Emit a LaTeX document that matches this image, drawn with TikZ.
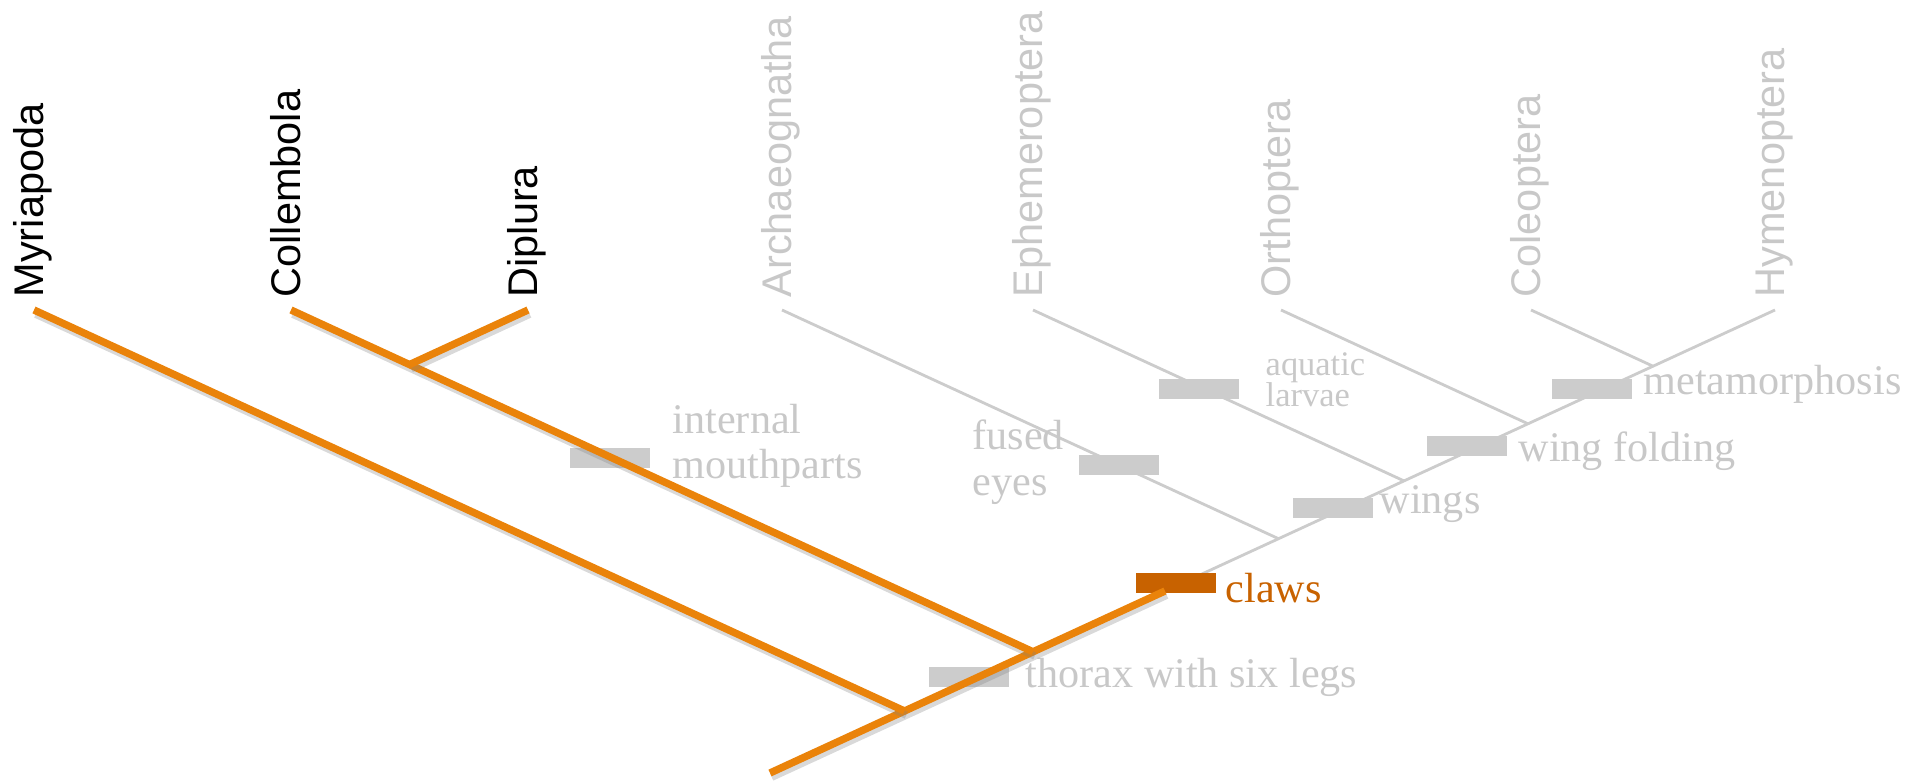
\documentclass[tikz,border=0pt]{standalone}
\usepackage{fontspec}
\setmainfont{Liberation Serif}
\newfontfamily\taxfont{Liberation Sans}
\definecolor{cladeorange}{RGB}{234,131,10}
\definecolor{clawbrown}{RGB}{200,98,0}
\definecolor{lightgrey}{RGB}{204,204,204}
\definecolor{textgrey}{RGB}{200,200,200}
\tikzset{
  orangeline/.style={draw=cladeorange, line width=2.1pt,
    preaction={draw=black!50, opacity=0.3, line width=2.1pt, transform canvas={shift={(0.5pt,-1.2pt)}}}},
  greyline/.style={draw=lightgrey, line width=0.8pt},
  trait/.style={fill=lightgrey, minimum width=0.8cm, minimum height=0.2cm, inner sep=0pt},
  traittext/.style={anchor=base west, text=textgrey, inner sep=0pt, align=left, font=\fontsize{12}{12.6}\selectfont},
  taxon/.style={rotate=90, anchor=base west, inner sep=0pt, font=\taxfont\fontsize{11.8}{14}\selectfont},
}
\begin{document}
\begin{tikzpicture}
    \useasboundingbox (0,0) rectangle (19.17,7.82);

    % spine
    \coordinate (R) at (7.70,0.09);
    \coordinate (H) at (17.75,4.72);
    \coordinate (C) at (11.65,1.91);

    % tips
    \coordinate (Myr) at (0.34,4.72);
    \coordinate (Col) at (2.91,4.72);
    \coordinate (Dip) at (5.28,4.72);
    \coordinate (Arc) at (7.82,4.72);
    \coordinate (Eph) at (10.33,4.72);
    \coordinate (Ort) at (12.81,4.72);
    \coordinate (Cle) at (15.31,4.72);

    % junctions
    \coordinate (J1) at (9.045,0.710);
    \coordinate (J2) at (10.33,1.302);
    \coordinate (J3) at (4.095,4.174);
    \coordinate (J4) at (12.785,2.433);
    \coordinate (J5) at (14.04,3.011);
    \coordinate (J6) at (15.28,3.582);
    \coordinate (J7) at (16.53,4.158);

    % taxa
    \node[taxon] (nMyr) at ([shift={(0.09,0.12)}]Myr) {Myriapoda};
    \node[taxon] (nCol) at ([shift={(0.09,0.12)}]Col) {Collembola};
    \node[taxon] (nDip) at ([shift={(0.09,0.12)}]Dip) {Diplura};
    \node[taxon, text=textgrey] (nArc) at ([shift={(0.09,0.12)}]Arc) {Archaeognatha};
    \node[taxon, text=textgrey] (nEph) at ([shift={(0.09,0.12)}]Eph) {Ephemeroptera};
    \node[taxon, text=textgrey] (nOrt) at ([shift={(0.09,0.12)}]Ort) {Orthoptera};
    \node[taxon, text=textgrey] (nCle) at ([shift={(0.09,0.12)}]Cle) {Coleoptera};
    \node[taxon, text=textgrey] (nHym) at ([shift={(0.09,0.12)}]H) {Hymenoptera};

    % grey branches
    \draw[greyline] (C) -- (H);
    \draw[greyline] (Arc) -- (J4);
    \draw[greyline] (Eph) -- (J5);
    \draw[greyline] (Ort) -- (J6);
    \draw[greyline] (Cle) -- (J7);

    % traits
    \node[trait] (bMouth) at (6.10,3.24) {};
    \node[trait] (bThorax) at (9.69,1.05) {};
    \node[trait, fill=clawbrown] (bClaws) at (11.76,1.99) {};
    \node[trait] (bEyes) at (11.19,3.17) {};
    \node[trait] (bLarvae) at (11.99,3.93) {};
    \node[trait] (bWings) at (13.33,2.74) {};
    \node[trait] (bFold) at (14.67,3.36) {};
    \node[trait] (bMeta) at (15.92,3.93) {};

    \node[traittext] (tMouth) at (6.72,3.04) {internal\\mouthparts};
    \node[traittext] (tThorax) at (10.25,0.95) {thorax with six legs};
    \node[traittext, text=clawbrown] (tClaws) at (12.25,1.80) {claws};
    \node[traittext, font=\fontsize{12}{13}\selectfont] (tEyes) at (9.72,2.87) {fused\\eyes};
    \node[traittext, font=\fontsize{9.8}{9.1}\selectfont] (tLarvae) at (12.65,3.75) {aquatic\\larvae};
    \node[traittext] (tWings) at (13.79,2.69) {wings};
    \node[traittext] (tFold) at (15.18,3.20) {wing folding};
    \node[traittext] (tMeta) at (16.43,3.87) {metamorphosis};

    % orange branches
    \draw[orangeline] (R) -- (C);
    \draw[orangeline] (Myr) -- (J1);
    \draw[orangeline] (Col) -- (J2);
    \draw[orangeline] (Dip) -- (J3);

\end{tikzpicture}
\end{document}
